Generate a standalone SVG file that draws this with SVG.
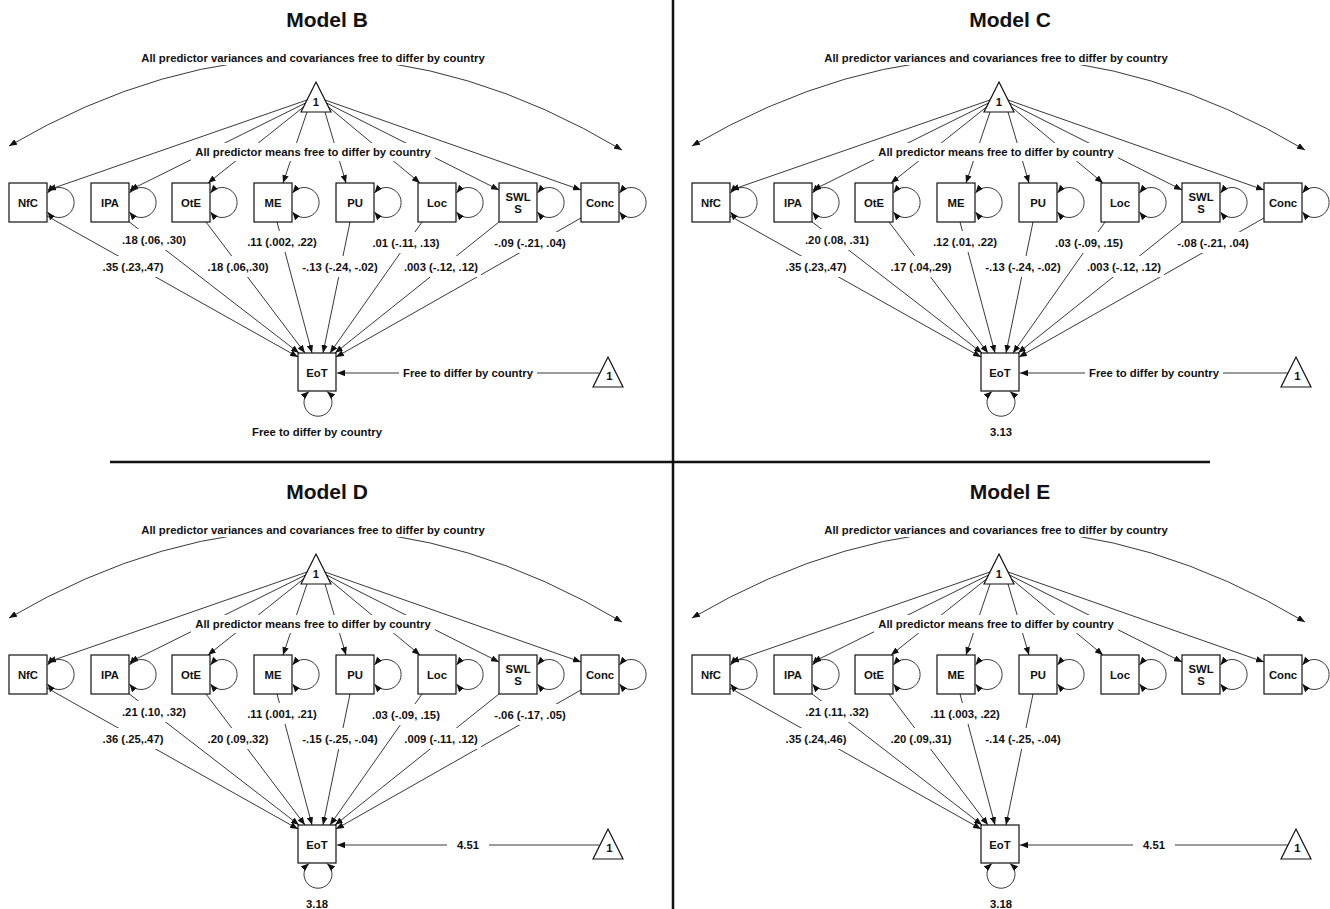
<svg xmlns="http://www.w3.org/2000/svg" width="1330" height="909" viewBox="0 0 1330 909">
<defs>
<marker id="ah" viewBox="0 0 10 8" refX="10" refY="4" markerWidth="8" markerHeight="6.4" markerUnits="userSpaceOnUse" orient="auto-start-reverse"><path d="M0,0 L10,4 L0,8 z" fill="#111"/></marker>
</defs>
<style>
.t{font-family:"Liberation Sans",Arial,Helvetica,sans-serif;font-weight:bold;font-size:11.3px;text-anchor:middle;fill:#111}
.title{font-size:21px}
.box{fill:#fff;stroke:#111;stroke-width:1.2}
.ln{fill:none;stroke:#222;stroke-width:0.9}
.arr{marker-end:url(#ah)}
.arr2{marker-start:url(#ah);marker-end:url(#ah)}
.bg{fill:#fff}
.div{stroke:#111;stroke-width:2.5}
</style>
<rect width="1330" height="909" fill="#fff"/>
<g id="dividers">
<line class="div" x1="673" y1="0" x2="673" y2="909"/>
<line class="div" x1="110" y1="462" x2="1210" y2="462"/>
</g>

<!-- ================= Model B ================= -->
<g id="panelB">
<text class="t title" x="327" y="27">Model B</text>
<g id="B-connectors">
<path class="ln arr2" d="M9,146 Q315,-33 622,150"/>
<line class="ln arr" x1="307" y1="100" x2="48" y2="190"/>
<line class="ln arr" x1="305.5" y1="103" x2="130" y2="190"/>
<line class="ln arr" x1="303.5" y1="107" x2="208" y2="183"/>
<line class="ln arr" x1="307" y1="112" x2="283" y2="183"/>
<line class="ln arr" x1="325" y1="112" x2="346" y2="183"/>
<line class="ln arr" x1="328.5" y1="107" x2="420" y2="183"/>
<line class="ln arr" x1="326.5" y1="103" x2="499" y2="190"/>
<line class="ln arr" x1="325" y1="100" x2="581" y2="190"/>
<path class="ln arr2" d="M47.5,193 A15,15 0 1 1 47.5,212"/>
<path class="ln arr2" d="M129.5,193 A15,15 0 1 1 129.5,212"/>
<path class="ln arr2" d="M210.5,193 A15,15 0 1 1 210.5,212"/>
<path class="ln arr2" d="M292.5,193 A15,15 0 1 1 292.5,212"/>
<path class="ln arr2" d="M374.5,193 A15,15 0 1 1 374.5,212"/>
<path class="ln arr2" d="M456.5,193 A15,15 0 1 1 456.5,212"/>
<path class="ln arr2" d="M537.5,193 A15,15 0 1 1 537.5,212"/>
<path class="ln arr2" d="M619.5,193 A15,15 0 1 1 619.5,212"/>
<line class="ln arr" x1="47" y1="216" x2="298" y2="357"/>
<line class="ln arr" x1="128" y1="221" x2="299" y2="353"/>
<line class="ln arr" x1="206" y1="222" x2="305" y2="353"/>
<line class="ln arr" x1="277" y1="222" x2="312" y2="353"/>
<line class="ln arr" x1="350" y1="222" x2="323" y2="353"/>
<line class="ln arr" x1="422" y1="222" x2="330" y2="353"/>
<line class="ln arr" x1="499" y1="222" x2="335" y2="353"/>
<line class="ln arr" x1="581" y1="218" x2="336" y2="357"/>
<line class="ln arr" x1="599.5" y1="373" x2="337" y2="373"/>
<path class="ln arr2" d="M309,391.5 A14,14 0 1 0 327,391.5"/>
</g>
<g id="B-labels">
<rect class="bg" x="99.5" y="256" width="67" height="21"/><text class="t" x="133" y="271">.35 (.23,.47)</text>
<rect class="bg" x="119" y="229" width="70" height="21"/><text class="t" x="154" y="244">.18 (.06, .30)</text>
<rect class="bg" x="204.5" y="256" width="67" height="21"/><text class="t" x="238" y="271">.18 (.06,.30)</text>
<rect class="bg" x="244" y="231" width="76" height="21"/><text class="t" x="282" y="246">.11 (.002, .22)</text>
<rect class="bg" x="299.5" y="256" width="81" height="21"/><text class="t" x="340" y="271">-.13 (-.24, -.02)</text>
<rect class="bg" x="369" y="232" width="74" height="21"/><text class="t" x="406" y="247">.01 (-.11, .13)</text>
<rect class="bg" x="401" y="256" width="80" height="21"/><text class="t" x="441" y="271">.003 (-.12, .12)</text>
<rect class="bg" x="491" y="232" width="78" height="21"/><text class="t" x="530" y="247">-.09 (-.21, .04)</text>
<rect class="bg" x="399" y="362" width="138" height="21"/><text class="t" x="468" y="377">Free to differ by country</text>
<text class="t" x="317" y="436">Free to differ by country</text>
<rect class="bg" x="137" y="50" width="352" height="15"/>
<text class="t" x="313" y="62">All predictor variances and covariances free to differ by country</text>
<rect class="bg" x="191" y="143" width="244" height="18"/>
<text class="t" x="313" y="156">All predictor means free to differ by country</text>
</g>
<g id="B-one"><path class="box" d="M316,82 L331,112 L301,112 Z"/><text class="t" x="316" y="105.5">1</text></g>
<g id="B-NfC"><rect class="box" x="9" y="183" width="38" height="39"/><text class="t" x="28" y="206.5">NfC</text></g>
<g id="B-IPA"><rect class="box" x="91" y="183" width="38" height="39"/><text class="t" x="110" y="206.5">IPA</text></g>
<g id="B-OtE"><rect class="box" x="172" y="183" width="38" height="39"/><text class="t" x="191" y="206.5">OtE</text></g>
<g id="B-ME"><rect class="box" x="254" y="183" width="38" height="39"/><text class="t" x="273" y="206.5">ME</text></g>
<g id="B-PU"><rect class="box" x="336" y="183" width="38" height="39"/><text class="t" x="355" y="206.5">PU</text></g>
<g id="B-Loc"><rect class="box" x="418" y="183" width="38" height="39"/><text class="t" x="437" y="206.5">Loc</text></g>
<g id="B-SWLS"><rect class="box" x="499" y="183" width="38" height="39"/><text class="t" x="518" y="201">SWL</text><text class="t" x="518" y="213">S</text></g>
<g id="B-Conc"><rect class="box" x="581" y="183" width="38" height="39"/><text class="t" x="600" y="206.5">Conc</text></g>
<g id="B-EoT"><rect class="box" x="298" y="353" width="38" height="38"/><text class="t" x="317" y="376.5">EoT</text></g>
<g id="B-one2"><path class="box" d="M608,357 L623,387 L593,387 Z"/><text class="t" x="609.5" y="380">1</text></g>
</g>

<!-- ================= Model C ================= -->
<g id="panelC" transform="translate(683,0)">
<text class="t title" x="327" y="27">Model C</text>
<g id="C-connectors">
<path class="ln arr2" d="M9,146 Q315,-33 622,150"/>
<line class="ln arr" x1="307" y1="100" x2="48" y2="190"/>
<line class="ln arr" x1="305.5" y1="103" x2="130" y2="190"/>
<line class="ln arr" x1="303.5" y1="107" x2="208" y2="183"/>
<line class="ln arr" x1="307" y1="112" x2="283" y2="183"/>
<line class="ln arr" x1="325" y1="112" x2="346" y2="183"/>
<line class="ln arr" x1="328.5" y1="107" x2="420" y2="183"/>
<line class="ln arr" x1="326.5" y1="103" x2="499" y2="190"/>
<line class="ln arr" x1="325" y1="100" x2="581" y2="190"/>
<path class="ln arr2" d="M47.5,193 A15,15 0 1 1 47.5,212"/>
<path class="ln arr2" d="M129.5,193 A15,15 0 1 1 129.5,212"/>
<path class="ln arr2" d="M210.5,193 A15,15 0 1 1 210.5,212"/>
<path class="ln arr2" d="M292.5,193 A15,15 0 1 1 292.5,212"/>
<path class="ln arr2" d="M374.5,193 A15,15 0 1 1 374.5,212"/>
<path class="ln arr2" d="M456.5,193 A15,15 0 1 1 456.5,212"/>
<path class="ln arr2" d="M537.5,193 A15,15 0 1 1 537.5,212"/>
<path class="ln arr2" d="M619.5,193 A15,15 0 1 1 619.5,212"/>
<line class="ln arr" x1="47" y1="216" x2="298" y2="357"/>
<line class="ln arr" x1="128" y1="221" x2="299" y2="353"/>
<line class="ln arr" x1="206" y1="222" x2="305" y2="353"/>
<line class="ln arr" x1="277" y1="222" x2="312" y2="353"/>
<line class="ln arr" x1="350" y1="222" x2="323" y2="353"/>
<line class="ln arr" x1="422" y1="222" x2="330" y2="353"/>
<line class="ln arr" x1="499" y1="222" x2="335" y2="353"/>
<line class="ln arr" x1="581" y1="218" x2="336" y2="357"/>
<line class="ln arr" x1="605.5" y1="373" x2="337" y2="373"/>
<path class="ln arr2" d="M309,391.5 A14,14 0 1 0 327,391.5"/>
</g>
<g id="C-labels">
<rect class="bg" x="99.5" y="256" width="67" height="21"/><text class="t" x="133" y="271">.35 (.23,.47)</text>
<rect class="bg" x="119" y="229" width="70" height="21"/><text class="t" x="154" y="244">.20 (.08, .31)</text>
<rect class="bg" x="204.5" y="256" width="67" height="21"/><text class="t" x="238" y="271">.17 (.04,.29)</text>
<rect class="bg" x="247" y="231" width="70" height="21"/><text class="t" x="282" y="246">.12 (.01, .22)</text>
<rect class="bg" x="299.5" y="256" width="81" height="21"/><text class="t" x="340" y="271">-.13 (-.24, -.02)</text>
<rect class="bg" x="369" y="232" width="74" height="21"/><text class="t" x="406" y="247">.03 (-.09, .15)</text>
<rect class="bg" x="401" y="256" width="80" height="21"/><text class="t" x="441" y="271">.003 (-.12, .12)</text>
<rect class="bg" x="491" y="232" width="78" height="21"/><text class="t" x="530" y="247">-.08 (-.21, .04)</text>
<rect class="bg" x="402" y="362" width="138" height="21"/><text class="t" x="471" y="377">Free to differ by country</text>
<text class="t" x="318" y="436">3.13</text>
<rect class="bg" x="137" y="50" width="352" height="15"/>
<text class="t" x="313" y="62">All predictor variances and covariances free to differ by country</text>
<rect class="bg" x="191" y="143" width="244" height="18"/>
<text class="t" x="313" y="156">All predictor means free to differ by country</text>
</g>
<g id="C-one"><path class="box" d="M316,82 L331,112 L301,112 Z"/><text class="t" x="316" y="105.5">1</text></g>
<g id="C-NfC"><rect class="box" x="9" y="183" width="38" height="39"/><text class="t" x="28" y="206.5">NfC</text></g>
<g id="C-IPA"><rect class="box" x="91" y="183" width="38" height="39"/><text class="t" x="110" y="206.5">IPA</text></g>
<g id="C-OtE"><rect class="box" x="172" y="183" width="38" height="39"/><text class="t" x="191" y="206.5">OtE</text></g>
<g id="C-ME"><rect class="box" x="254" y="183" width="38" height="39"/><text class="t" x="273" y="206.5">ME</text></g>
<g id="C-PU"><rect class="box" x="336" y="183" width="38" height="39"/><text class="t" x="355" y="206.5">PU</text></g>
<g id="C-Loc"><rect class="box" x="418" y="183" width="38" height="39"/><text class="t" x="437" y="206.5">Loc</text></g>
<g id="C-SWLS"><rect class="box" x="499" y="183" width="38" height="39"/><text class="t" x="518" y="201">SWL</text><text class="t" x="518" y="213">S</text></g>
<g id="C-Conc"><rect class="box" x="581" y="183" width="38" height="39"/><text class="t" x="600" y="206.5">Conc</text></g>
<g id="C-EoT"><rect class="box" x="298" y="353" width="38" height="38"/><text class="t" x="317" y="376.5">EoT</text></g>
<g id="C-one2"><path class="box" d="M613,357 L628,387 L598,387 Z"/><text class="t" x="614.5" y="380">1</text></g>
</g>

<!-- ================= Model D ================= -->
<g id="panelD" transform="translate(0,472)">
<text class="t title" x="327" y="27">Model D</text>
<g id="D-connectors">
<path class="ln arr2" d="M9,146 Q315,-33 622,150"/>
<line class="ln arr" x1="307" y1="100" x2="48" y2="190"/>
<line class="ln arr" x1="305.5" y1="103" x2="130" y2="190"/>
<line class="ln arr" x1="303.5" y1="107" x2="208" y2="183"/>
<line class="ln arr" x1="307" y1="112" x2="283" y2="183"/>
<line class="ln arr" x1="325" y1="112" x2="346" y2="183"/>
<line class="ln arr" x1="328.5" y1="107" x2="420" y2="183"/>
<line class="ln arr" x1="326.5" y1="103" x2="499" y2="190"/>
<line class="ln arr" x1="325" y1="100" x2="581" y2="190"/>
<path class="ln arr2" d="M47.5,193 A15,15 0 1 1 47.5,212"/>
<path class="ln arr2" d="M129.5,193 A15,15 0 1 1 129.5,212"/>
<path class="ln arr2" d="M210.5,193 A15,15 0 1 1 210.5,212"/>
<path class="ln arr2" d="M292.5,193 A15,15 0 1 1 292.5,212"/>
<path class="ln arr2" d="M374.5,193 A15,15 0 1 1 374.5,212"/>
<path class="ln arr2" d="M456.5,193 A15,15 0 1 1 456.5,212"/>
<path class="ln arr2" d="M537.5,193 A15,15 0 1 1 537.5,212"/>
<path class="ln arr2" d="M619.5,193 A15,15 0 1 1 619.5,212"/>
<line class="ln arr" x1="47" y1="216" x2="298" y2="357"/>
<line class="ln arr" x1="128" y1="221" x2="299" y2="353"/>
<line class="ln arr" x1="206" y1="222" x2="305" y2="353"/>
<line class="ln arr" x1="277" y1="222" x2="312" y2="353"/>
<line class="ln arr" x1="350" y1="222" x2="323" y2="353"/>
<line class="ln arr" x1="422" y1="222" x2="330" y2="353"/>
<line class="ln arr" x1="499" y1="222" x2="335" y2="353"/>
<line class="ln arr" x1="581" y1="218" x2="336" y2="357"/>
<line class="ln arr" x1="599.5" y1="373" x2="337" y2="373"/>
<path class="ln arr2" d="M309,391.5 A14,14 0 1 0 327,391.5"/>
</g>
<g id="D-labels">
<rect class="bg" x="99.5" y="256" width="67" height="21"/><text class="t" x="133" y="271">.36 (.25,.47)</text>
<rect class="bg" x="119" y="229" width="70" height="21"/><text class="t" x="154" y="244">.21 (.10, .32)</text>
<rect class="bg" x="204.5" y="256" width="67" height="21"/><text class="t" x="238" y="271">.20 (.09,.32)</text>
<rect class="bg" x="244" y="231" width="76" height="21"/><text class="t" x="282" y="246">.11 (.001, .21)</text>
<rect class="bg" x="299.5" y="256" width="81" height="21"/><text class="t" x="340" y="271">-.15 (-.25, -.04)</text>
<rect class="bg" x="369" y="232" width="74" height="21"/><text class="t" x="406" y="247">.03 (-.09, .15)</text>
<rect class="bg" x="401" y="256" width="80" height="21"/><text class="t" x="441" y="271">.009 (-.11, .12)</text>
<rect class="bg" x="491" y="232" width="78" height="21"/><text class="t" x="530" y="247">-.06 (-.17, .05)</text>
<rect class="bg" x="447" y="362" width="42" height="21"/><text class="t" x="468" y="377">4.51</text>
<text class="t" x="317" y="436">3.18</text>
<rect class="bg" x="137" y="50" width="352" height="15"/>
<text class="t" x="313" y="62">All predictor variances and covariances free to differ by country</text>
<rect class="bg" x="191" y="143" width="244" height="18"/>
<text class="t" x="313" y="156">All predictor means free to differ by country</text>
</g>
<g id="D-one"><path class="box" d="M316,82 L331,112 L301,112 Z"/><text class="t" x="316" y="105.5">1</text></g>
<g id="D-NfC"><rect class="box" x="9" y="183" width="38" height="39"/><text class="t" x="28" y="206.5">NfC</text></g>
<g id="D-IPA"><rect class="box" x="91" y="183" width="38" height="39"/><text class="t" x="110" y="206.5">IPA</text></g>
<g id="D-OtE"><rect class="box" x="172" y="183" width="38" height="39"/><text class="t" x="191" y="206.5">OtE</text></g>
<g id="D-ME"><rect class="box" x="254" y="183" width="38" height="39"/><text class="t" x="273" y="206.5">ME</text></g>
<g id="D-PU"><rect class="box" x="336" y="183" width="38" height="39"/><text class="t" x="355" y="206.5">PU</text></g>
<g id="D-Loc"><rect class="box" x="418" y="183" width="38" height="39"/><text class="t" x="437" y="206.5">Loc</text></g>
<g id="D-SWLS"><rect class="box" x="499" y="183" width="38" height="39"/><text class="t" x="518" y="201">SWL</text><text class="t" x="518" y="213">S</text></g>
<g id="D-Conc"><rect class="box" x="581" y="183" width="38" height="39"/><text class="t" x="600" y="206.5">Conc</text></g>
<g id="D-EoT"><rect class="box" x="298" y="353" width="38" height="38"/><text class="t" x="317" y="376.5">EoT</text></g>
<g id="D-one2"><path class="box" d="M608,357 L623,387 L593,387 Z"/><text class="t" x="609.5" y="380">1</text></g>
</g>

<!-- ================= Model E ================= -->
<g id="panelE" transform="translate(683,472)">
<text class="t title" x="327" y="27">Model E</text>
<g id="E-connectors">
<path class="ln arr2" d="M9,146 Q315,-33 622,150"/>
<line class="ln arr" x1="307" y1="100" x2="48" y2="190"/>
<line class="ln arr" x1="305.5" y1="103" x2="130" y2="190"/>
<line class="ln arr" x1="303.5" y1="107" x2="208" y2="183"/>
<line class="ln arr" x1="307" y1="112" x2="283" y2="183"/>
<line class="ln arr" x1="325" y1="112" x2="346" y2="183"/>
<line class="ln arr" x1="328.5" y1="107" x2="420" y2="183"/>
<line class="ln arr" x1="326.5" y1="103" x2="499" y2="190"/>
<line class="ln arr" x1="325" y1="100" x2="581" y2="190"/>
<path class="ln arr2" d="M47.5,193 A15,15 0 1 1 47.5,212"/>
<path class="ln arr2" d="M129.5,193 A15,15 0 1 1 129.5,212"/>
<path class="ln arr2" d="M210.5,193 A15,15 0 1 1 210.5,212"/>
<path class="ln arr2" d="M292.5,193 A15,15 0 1 1 292.5,212"/>
<path class="ln arr2" d="M374.5,193 A15,15 0 1 1 374.5,212"/>
<path class="ln arr2" d="M456.5,193 A15,15 0 1 1 456.5,212"/>
<path class="ln arr2" d="M537.5,193 A15,15 0 1 1 537.5,212"/>
<path class="ln arr2" d="M619.5,193 A15,15 0 1 1 619.5,212"/>
<line class="ln arr" x1="47" y1="216" x2="298" y2="357"/>
<line class="ln arr" x1="128" y1="221" x2="299" y2="353"/>
<line class="ln arr" x1="206" y1="222" x2="305" y2="353"/>
<line class="ln arr" x1="277" y1="222" x2="312" y2="353"/>
<line class="ln arr" x1="350" y1="222" x2="323" y2="353"/>
<line class="ln arr" x1="605.5" y1="373" x2="337" y2="373"/>
<path class="ln arr2" d="M309,391.5 A14,14 0 1 0 327,391.5"/>
</g>
<g id="E-labels">
<rect class="bg" x="99.5" y="256" width="67" height="21"/><text class="t" x="133" y="271">.35 (.24,.46)</text>
<rect class="bg" x="119" y="229" width="70" height="21"/><text class="t" x="154" y="244">.21 (.11, .32)</text>
<rect class="bg" x="204.5" y="256" width="67" height="21"/><text class="t" x="238" y="271">.20 (.09,.31)</text>
<rect class="bg" x="244" y="231" width="76" height="21"/><text class="t" x="282" y="246">.11 (.003, .22)</text>
<rect class="bg" x="299.5" y="256" width="81" height="21"/><text class="t" x="340" y="271">-.14 (-.25, -.04)</text>
<rect class="bg" x="450" y="362" width="42" height="21"/><text class="t" x="471" y="377">4.51</text>
<text class="t" x="318" y="436">3.18</text>
<rect class="bg" x="137" y="50" width="352" height="15"/>
<text class="t" x="313" y="62">All predictor variances and covariances free to differ by country</text>
<rect class="bg" x="191" y="143" width="244" height="18"/>
<text class="t" x="313" y="156">All predictor means free to differ by country</text>
</g>
<g id="E-one"><path class="box" d="M316,82 L331,112 L301,112 Z"/><text class="t" x="316" y="105.5">1</text></g>
<g id="E-NfC"><rect class="box" x="9" y="183" width="38" height="39"/><text class="t" x="28" y="206.5">NfC</text></g>
<g id="E-IPA"><rect class="box" x="91" y="183" width="38" height="39"/><text class="t" x="110" y="206.5">IPA</text></g>
<g id="E-OtE"><rect class="box" x="172" y="183" width="38" height="39"/><text class="t" x="191" y="206.5">OtE</text></g>
<g id="E-ME"><rect class="box" x="254" y="183" width="38" height="39"/><text class="t" x="273" y="206.5">ME</text></g>
<g id="E-PU"><rect class="box" x="336" y="183" width="38" height="39"/><text class="t" x="355" y="206.5">PU</text></g>
<g id="E-Loc"><rect class="box" x="418" y="183" width="38" height="39"/><text class="t" x="437" y="206.5">Loc</text></g>
<g id="E-SWLS"><rect class="box" x="499" y="183" width="38" height="39"/><text class="t" x="518" y="201">SWL</text><text class="t" x="518" y="213">S</text></g>
<g id="E-Conc"><rect class="box" x="581" y="183" width="38" height="39"/><text class="t" x="600" y="206.5">Conc</text></g>
<g id="E-EoT"><rect class="box" x="298" y="353" width="38" height="38"/><text class="t" x="317" y="376.5">EoT</text></g>
<g id="E-one2"><path class="box" d="M613,357 L628,387 L598,387 Z"/><text class="t" x="614.5" y="380">1</text></g>
</g>
</svg>
